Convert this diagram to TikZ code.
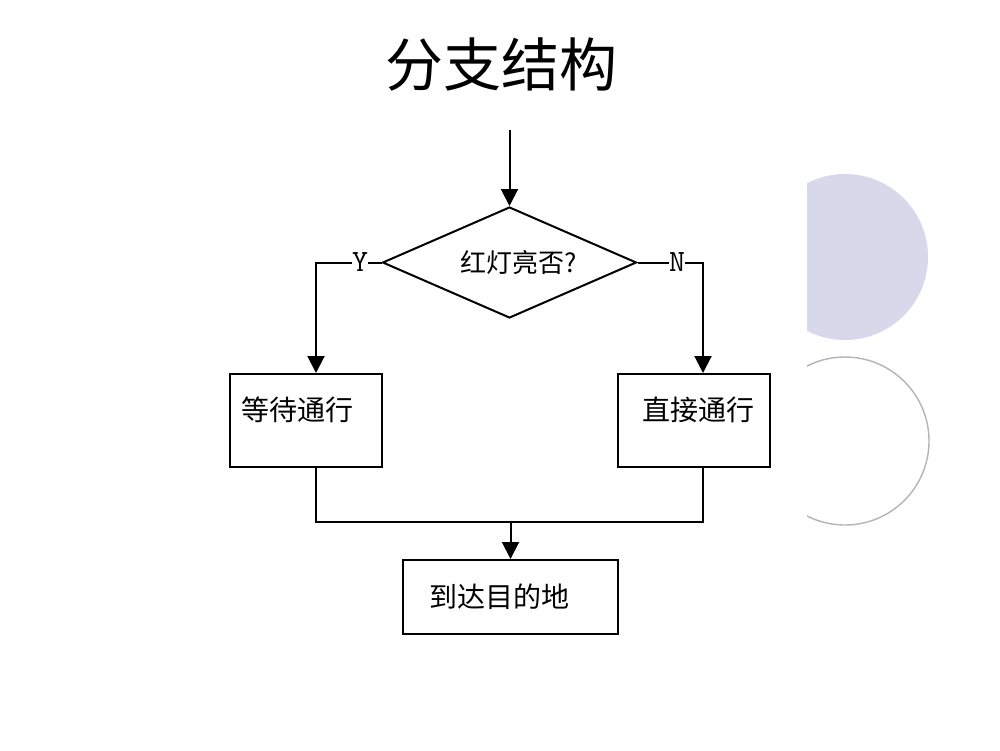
\documentclass[tikz,border=0pt]{standalone}
\usepackage{fontspec}
\newfontfamily\cjk{Noto Sans CJK SC}
\usetikzlibrary{shapes.geometric,arrows.meta,calc}
\definecolor{discfill}{HTML}{D9D7EA}
\definecolor{ringline}{HTML}{B4B4B4}
\tikzset{
  flow/.style={line width=2pt, black},
  arrowline/.style={flow, -{Triangle[length=17pt,width=17pt]}},
  stepbox/.style={draw, line width=2pt, inner sep=0pt, font=\cjk\fontsize{28pt}{30pt}\selectfont},
  decision/.style={draw, diamond, line width=2pt, inner sep=0pt,
    minimum width=254pt, minimum height=111pt, aspect=2.3,
    font=\cjk\fontsize{26pt}{28pt}\selectfont},
  yn/.style={fill=white, inner xsep=0.5pt, inner ysep=1pt, font=\ttfamily\fontsize{31pt}{33pt}\selectfont}
}
\begin{document}
\begin{tikzpicture}[x=1pt,y=-1pt]
  \fill[white] (0,0) rectangle (1000,750);
  \useasboundingbox (0,0) rectangle (1000,750);

  % decorative discs at the right edge
  \begin{scope}
    \clip (807,0) rectangle (1000,750);
    \fill[discfill] (845,257) circle (83);
    \draw[ringline, line width=1.4pt] (845,441) circle (84);
  \end{scope}

  % title
  \node[font=\cjk\fontsize{58pt}{60pt}\selectfont] (title) at (501,65) {分支结构};

  % flowchart nodes
  \coordinate (start) at (509.5,130);
  \node[decision] (dia) at (509.5,262.5) {\hspace*{18pt}红灯亮否?};
  \node[stepbox, anchor=base west, text height=46pt, text depth=47pt]
    (wait) at (229,420) {\hspace*{11pt}等待通行\hspace*{29pt}};
  \node[stepbox, anchor=base west, text height=46pt, text depth=47pt]
    (go) at (617,420) {\hspace*{24pt}直接通行\hspace*{16pt}};
  \node[stepbox, anchor=base west, text height=47pt, text depth=27pt]
    (dest) at (402,607) {\hspace*{26pt}到达目的地\hspace*{49pt}};

  % branch and merge points
  \coordinate (lc) at (316,262.5);
  \coordinate (rc) at (703,262.5);
  \coordinate (m) at (dest.north |- 0,522);

  % connectors
  \draw[arrowline] (start) -- (dia.north);
  \draw[arrowline] (dia.west) -- (lc) -- (lc |- wait.north);
  \draw[arrowline] (dia.east) -- (rc) -- (rc |- go.north);
  \draw[flow] (lc |- wait.south) -- (lc |- m) -- (rc |- m) -- (rc |- go.south);
  \draw[arrowline] (m) -- (dest.north);

  % branch labels
  \node[yn] (ylab) at (360,262.5) {Y};
  \node[yn] (nlab) at (677,262.5) {N};
\end{tikzpicture}
\end{document}
